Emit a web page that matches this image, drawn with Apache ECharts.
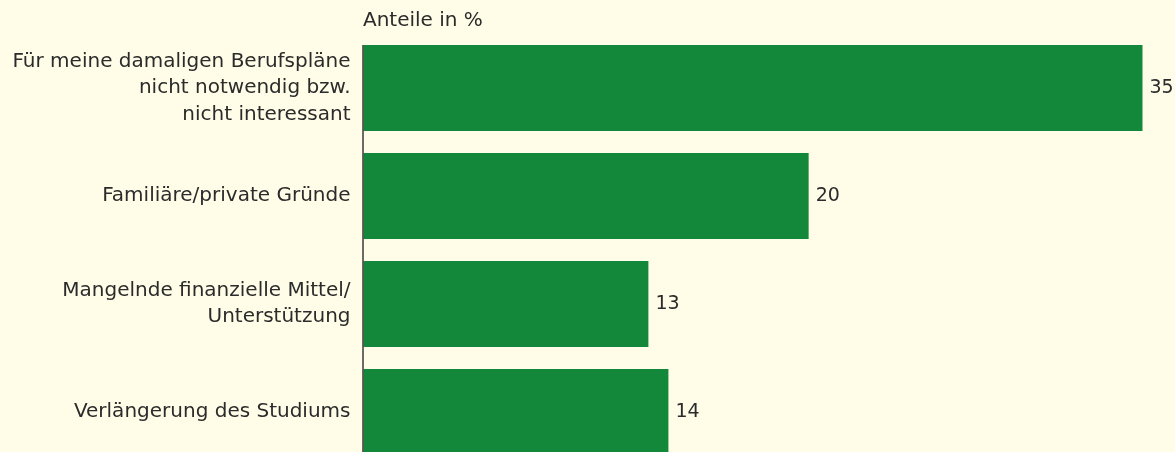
<!DOCTYPE html>
<html>
<head>
<meta charset="utf-8">
<script src="https://cdn.jsdelivr.net/npm/echarts@6/dist/echarts.min.js"></script>
<style>
html,body{margin:0;padding:0;background:#fffde8;}
#chart{width:1175px;height:452px;}
</style>
</head>
<body>
<div id="chart"></div>
<script>
const categories = [
  'Für meine damaligen Berufspläne\nnicht notwendig bzw.\nnicht interessant',
  'Familiäre/private Gründe',
  'Mangelnde finanzielle Mittel/\nUnterstützung',
  'Verlängerung des Studiums'
];
const values = [35, 20, 12.8, 13.7];
const valueLabels = ['35', '20', '13', '14'];
const unitLabel = 'Anteile in %';

const FONT = '"DejaVu Sans", sans-serif';
const TXT = '#2b2b2b';
const BAR_W = 86;

const chart = echarts.init(document.getElementById('chart'), null, {renderer: 'canvas'});
chart.setOption({
  backgroundColor: '#fffde8',
  animation: false,
  grid: {left: 363.5, top: 34, width: 779, height: 432, containLabel: false, outerBoundsMode: 'none'},
  xAxis: {
    type: 'value', min: 0, max: 35,
    show: false
  },
  yAxis: {
    type: 'category',
    data: categories,
    inverse: true,
    axisLine: {show: false},
    axisTick: {show: false},
    axisLabel: {
      margin: 13, color: TXT, fontFamily: FONT, fontSize: 20,
      lineHeight: 26.5, align: 'right'
    },
    splitLine: {show: false}
  },
  series: [{
    type: 'bar',
    data: values,
    barWidth: BAR_W,
    itemStyle: {color: '#13873a'},
    label: {
      show: true, position: 'right', distance: 7,
      color: TXT, fontFamily: FONT, fontSize: 19,
      formatter: p => valueLabels[p.dataIndex]
    }
  }]
});

// axis line starting at the top of the first bar, derived from the scales
const x0 = chart.convertToPixel({xAxisIndex: 0}, 0);
const yFirst = chart.convertToPixel({yAxisIndex: 0}, 0) - BAR_W / 2;
chart.setOption({
  graphic: [{
    type: 'text',
    left: 363,
    top: 11,
    style: {text: unitLabel, fill: TXT, font: '20px ' + FONT}
  }, {
    type: 'line',
    z: 10,
    shape: {x1: x0 - 0.5, y1: yFirst, x2: x0 - 0.5, y2: 452},
    style: {stroke: '#3a3a3a', lineWidth: 1.5}
  }]
});
</script>
</body>
</html>
